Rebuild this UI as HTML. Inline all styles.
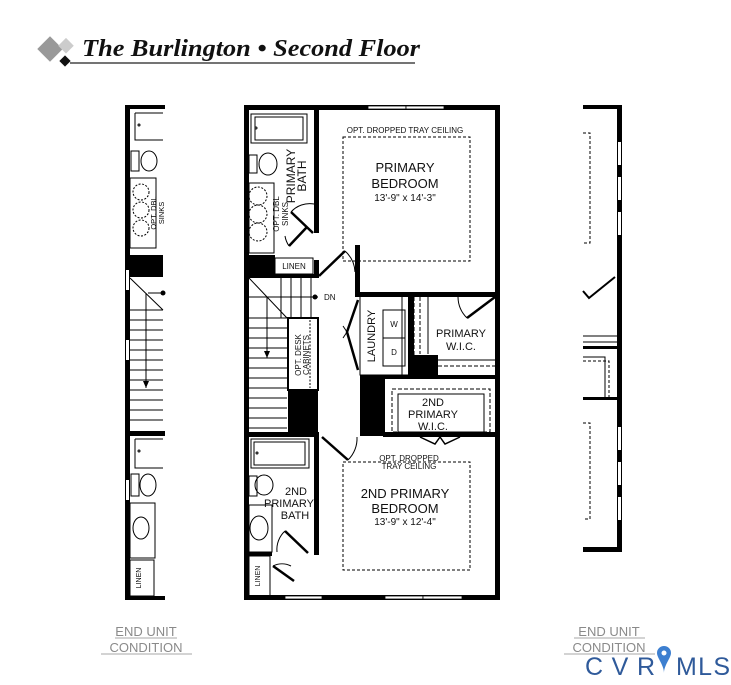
<!DOCTYPE html>
<html><head><meta charset="utf-8"><style>
body{margin:0;background:#fff;width:731px;height:685px;overflow:hidden}
svg{display:block}
</style></head><body>
<svg width="731" height="685" viewBox="0 0 731 685" xmlns="http://www.w3.org/2000/svg" font-family="Liberation Sans, sans-serif">
<!-- title -->
<rect x="41" y="40" width="18" height="18" fill="#999" transform="rotate(45 50 49)"/>
<rect x="61" y="40" width="11" height="11" fill="#ccc" transform="rotate(45 66 45)"/>
<rect x="61" y="57" width="8" height="8" fill="#111" transform="rotate(45 65 61)"/>
<text x="82" y="56" font-family="Liberation Serif, serif" font-style="italic" font-weight="bold" font-size="24" fill="#111" textLength="338" lengthAdjust="spacingAndGlyphs">The Burlington • Second Floor</text>
<line x1="70" y1="63" x2="415" y2="63" stroke="#222" stroke-width="1.2"/>

<!-- LEFT partial unit -->
<g fill="#000">
<rect x="125" y="105" width="5" height="495"/>
<rect x="125" y="105" width="40" height="4"/>
<rect x="125" y="596" width="40" height="4"/>
<rect x="125" y="255" width="38" height="22"/>
<rect x="125" y="431" width="40" height="5"/>
</g>
<rect x="126" y="270" width="3" height="20" fill="#fff"/>
<rect x="126" y="340" width="3" height="20" fill="#fff"/>
<rect x="126" y="480" width="3" height="20" fill="#fff"/>
<g fill="none" stroke="#000" stroke-width="1">
<path d="M135 113 H163 M135 113 V140 H163"/><circle cx="139" cy="125" r="1"/>
<rect x="131" y="151" width="8" height="20"/><ellipse cx="149" cy="161" rx="8" ry="10"/>
<rect x="130" y="178" width="26" height="70"/>
<g stroke-dasharray="2 1.5"><circle cx="141" cy="192" r="8"/><circle cx="141" cy="210" r="8"/><circle cx="141" cy="228" r="8"/></g>
<path d="M130 278 L163 310 M148 293 H163 M130 310 H163 M130 320 H163 M130 330 H163 M130 340 H163 M130 350 H163 M130 360 H163 M130 370 H163 M130 380 H163 M130 390 H163 M130 400 H163 M130 410 H163 M130 420 H163"/>
<path d="M146 293 V388"/>
<path d="M135 439 H163 M135 439 V468 H163"/><circle cx="139" cy="451" r="1"/>
<rect x="131" y="474" width="8" height="22"/><ellipse cx="148" cy="485" rx="8" ry="11"/>
<rect x="130" y="503" width="25" height="55"/><ellipse cx="141" cy="528" rx="8" ry="11"/>
<rect x="130" y="560" width="24" height="36"/>
</g>
<circle cx="163" cy="293" r="2.5" fill="#000"/>
<path d="M146 388 l-3 -7 h6z" fill="#000"/>
<text transform="translate(156 213) rotate(-90)" font-size="7.5" text-anchor="middle">OPT. DBL</text>
<text transform="translate(164 213) rotate(-90)" font-size="7.5" text-anchor="middle">SINKS</text>
<text transform="translate(141 578) rotate(-90)" font-size="7" text-anchor="middle">LINEN</text>

<!-- RIGHT partial unit -->
<g fill="#000">
<rect x="617" y="105" width="5" height="447"/>
<rect x="583" y="105" width="39" height="4"/>
<rect x="583" y="547" width="39" height="5"/>
<rect x="583" y="346" width="39" height="3"/>
<rect x="583" y="397" width="39" height="3"/>
</g>
<rect x="618" y="142" width="3" height="23" fill="#fff"/>
<rect x="618" y="177" width="3" height="23" fill="#fff"/>
<rect x="618" y="212" width="3" height="23" fill="#fff"/>
<rect x="618" y="427" width="3" height="23" fill="#fff"/>
<rect x="618" y="462" width="3" height="23" fill="#fff"/>
<rect x="618" y="497" width="3" height="23" fill="#fff"/>
<g fill="none" stroke="#000" stroke-width="1">
<path d="M583 133 H590 V243 H583" stroke-dasharray="3 2"/>
<path d="M583 423 H590 V519 H583" stroke-dasharray="3 2"/>
<path d="M615 277 L589 298 L583 291" stroke-width="2"/>
<path d="M583 336 H617 M583 342 H617"/>
<path d="M583 357 H605 V397"/>
<path d="M583 361 H609 V397" stroke-dasharray="3 2"/>
</g>

<!-- MAIN unit -->
<g fill="#000">
<rect x="244" y="105" width="256" height="5"/>
<rect x="244" y="105" width="5" height="495"/>
<rect x="495" y="105" width="5" height="495"/>
<rect x="244" y="595" width="256" height="5"/>
<rect x="314" y="108" width="5" height="125"/>
<rect x="314" y="260" width="5" height="18"/>
<rect x="244" y="255" width="31" height="23"/>
<rect x="244" y="274" width="75" height="4"/>
<rect x="355" y="292" width="145" height="5"/>
<rect x="355" y="245" width="5" height="50"/>
<rect x="408" y="295" width="6" height="80"/>
<rect x="412" y="355" width="26" height="24"/>
<rect x="360" y="375" width="25" height="61"/>
<rect x="383" y="375" width="117" height="4"/>
<rect x="288" y="390" width="30" height="45"/>
<rect x="244" y="432" width="75" height="5"/>
<rect x="383" y="432" width="117" height="5"/>
<rect x="314" y="435" width="5" height="120"/>
<rect x="244" y="552" width="28" height="4"/>
<rect x="314" y="552" width="5" height="3"/>
</g>
<!-- windows -->
<g fill="#fff" stroke="#000" stroke-width="0.8">
<rect x="368" y="106" width="38" height="3"/><rect x="406" y="106" width="38" height="3"/>
<rect x="285" y="596" width="37" height="3"/><rect x="385" y="596" width="38" height="3"/><rect x="423" y="596" width="39" height="3"/>
</g>
<g fill="none" stroke="#000" stroke-width="1">
<path d="M251 114 H307 V143 H251z"/><path d="M255 117 H303 V140 H255z"/><circle cx="256" cy="128" r="1"/>
<rect x="249" y="155" width="8" height="18"/><ellipse cx="268" cy="164" rx="9" ry="11"/>
<rect x="249" y="183" width="25" height="70"/>
<g stroke-dasharray="2 1.5"><circle cx="258" cy="196" r="9"/><circle cx="258" cy="214" r="9"/><circle cx="258" cy="232" r="9"/></g>
<rect x="275" y="258" width="38" height="16"/>
<path d="M291 212 L313 233 M289 246 L307 227" stroke-width="2.5"/>
<path d="M291 212 A25 25 0 0 1 314 204 M289 246 A25 25 0 0 1 285 236"/>
<path d="M319 276 L345 251" stroke-width="2.5"/>
<path d="M345 251 A30 30 0 0 1 355 272"/>
<path d="M249 278 L287 318 M249 297 H318 M281 278 V318 M291 278 V318 M301 278 V318 M311 278 V318"/>
<path d="M249 318 H287 M249 328 H287 M249 338 H287 M249 348 H287 M249 358 H287 M249 368 H287 M249 378 H287 M249 388 H287 M249 398 H287 M249 408 H287 M249 418 H287 M249 428 H287"/>
<path d="M267 297 V358"/>
<rect x="288" y="318" width="30" height="72" stroke-width="2"/>
<path d="M310 320 V388" stroke-dasharray="2 1.5"/>
<path d="M360 297 V375 H408"/>
<path d="M358 300 L347 332 L358 370" stroke-width="2.5"/>
<path d="M347 332 L343 326 M347 332 L343 338"/>
<rect x="383" y="310" width="22" height="28"/><rect x="383" y="338" width="22" height="28"/>
<path d="M402 297 V375"/>
<path d="M414 297 V375 M420 297 V354" stroke-dasharray="4 2"/>
<path d="M428 297 V354 M438 360 H495"/>
<path d="M438 366 H495" stroke-dasharray="4 2"/>
<path d="M495 297 L467 318" stroke-width="2.5"/>
<path d="M467 318 A30 30 0 0 1 458 297"/>
<rect x="392" y="389" width="98" height="43" stroke-dasharray="4 2"/>
<rect x="398" y="394" width="86" height="38"/>
<path d="M420 437 L435 444 L440 437 L445 444 L460 437" stroke-width="1.5"/>
<path d="M322 437 L348 460" stroke-width="2.5"/>
<path d="M348 460 A30 30 0 0 0 357 437"/>
<rect x="343" y="137" width="127" height="124" stroke-dasharray="3 2"/>
<rect x="343" y="462" width="127" height="108" stroke-dasharray="3 2"/>
<path d="M251 439 H309 V468 H251z"/><path d="M254 442 H305 V465 H254z"/><circle cx="257" cy="453" r="1"/>
<rect x="249" y="476" width="8" height="20"/><ellipse cx="264" cy="485" rx="9" ry="10"/>
<rect x="249" y="505" width="23" height="47"/><ellipse cx="259" cy="528" rx="9" ry="12"/>
<path d="M285 531 L308 553" stroke-width="2.5"/><path d="M285 531 A25 25 0 0 0 277 552"/>
<rect x="249" y="556" width="21" height="40"/>
<path d="M273 566 L294 581" stroke-width="2.5"/><path d="M273 566 A20 20 0 0 1 291 566 "/>
</g>
<circle cx="315" cy="297" r="2.5" fill="#000"/>
<path d="M267 358 l-3 -7 h6z" fill="#000"/>
<g font-size="8" text-anchor="middle" fill="#111">
<text x="405" y="133">OPT. DROPPED TRAY CEILING</text>
<text x="405" y="172" font-size="13">PRIMARY</text>
<text x="405" y="188" font-size="13">BEDROOM</text>
<text x="405" y="201" font-size="10">13'-9" x 14'-3"</text>
<text transform="translate(295 176) rotate(-90)" font-size="12">PRIMARY</text>
<text transform="translate(306 176) rotate(-90)" font-size="12">BATH</text>
<text transform="translate(279 214) rotate(-90)">OPT. DBL</text>
<text transform="translate(288 214) rotate(-90)">SINKS</text>
<text x="294" y="269">LINEN</text>
<text x="324" y="300" text-anchor="start">DN</text>
<text transform="translate(301 355) rotate(-90)">OPT. DESK</text>
<text transform="translate(309 355) rotate(-90)">CABINETS</text>
<text transform="translate(375 336) rotate(-90)" font-size="11">LAUNDRY</text>
<text x="394" y="327">W</text><text x="394" y="355">D</text>
<text x="461" y="337" font-size="11">PRIMARY</text>
<text x="461" y="350" font-size="11">W.I.C.</text>
<text x="433" y="406" font-size="11">2ND</text>
<text x="433" y="418" font-size="11">PRIMARY</text>
<text x="433" y="430" font-size="11">W.I.C.</text>
<text x="409" y="461">OPT. DROPPED</text>
<text x="409" y="469">TRAY CEILING</text>
<text x="405" y="498" font-size="13">2ND PRIMARY</text>
<text x="405" y="513" font-size="13">BEDROOM</text>
<text x="405" y="525" font-size="10">13'-9" x 12'-4"</text>
<text x="296" y="495" font-size="11">2ND</text>
<text x="289" y="507" font-size="11">PRIMARY</text>
<text x="295" y="519" font-size="11">BATH</text>
<text transform="translate(260 576) rotate(-90)" font-size="7">LINEN</text>
</g>
<g font-size="13" fill="#8a8a8a" text-anchor="middle">
<text x="146" y="636">END UNIT</text>
<text x="146" y="652">CONDITION</text>
<text x="609" y="636">END UNIT</text>
<text x="609" y="652">CONDITION</text>
</g>
<g stroke="#8a8a8a" stroke-width="0.8">
<line x1="115" y1="638" x2="177" y2="638"/><line x1="101" y1="654" x2="192" y2="654"/>
<line x1="574" y1="638" x2="645" y2="638"/><line x1="564" y1="654" x2="655" y2="654"/>
</g>
<text x="585" y="675" font-size="25" fill="#2f5a9a" textLength="70" lengthAdjust="spacing">CVR</text>
<path d="M657 653 a7 7 0 0 1 14 0 c0 5 -7 12 -7 20 c0 -8 -7 -15 -7 -20z" fill="#3d7fd0"/>
<circle cx="664" cy="653" r="2.5" fill="#fff"/>
<text x="676" y="675" font-size="25" fill="#2f5a9a" textLength="54" lengthAdjust="spacing">MLS</text>
</svg>
</body></html>
